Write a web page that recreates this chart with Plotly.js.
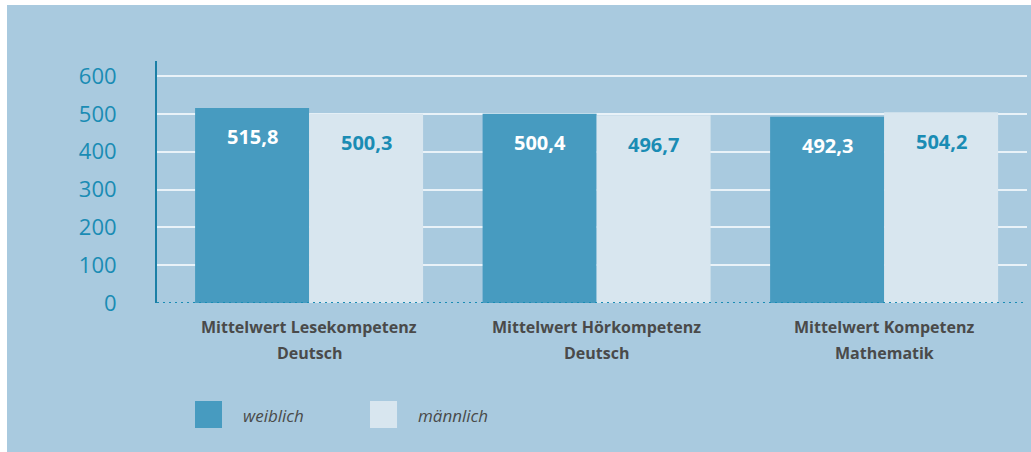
<!DOCTYPE html>
<html>
<head>
<meta charset="utf-8">
<script src="https://cdn.plot.ly/plotly-3.0.1.min.js"></script>
<style>
html,body{margin:0;padding:0;background:#ffffff;}
#chart{position:absolute;left:7px;top:5px;width:1024px;height:447px;}
</style>
</head>
<body>
<div id="chart"></div>
<script>
var categories = ["Mittelwert Lesekompetenz<br>Deutsch", "Mittelwert Hörkompetenz<br>Deutsch", "Mittelwert Kompetenz<br>Mathematik"];
var seriesNames = ["weiblich", "männlich"];
var weiblich = [515.8, 500.4, 492.3];
var maennlich = [500.3, 496.7, 504.2];
var yTicks = [0, 100, 200, 300, 400, 500, 600];

var FONT = "Open Sans, Noto Sans, sans-serif";
var DARK = "#479bc0", LIGHT = "#d8e6ef", TEAL = "#1a8cb4", GREY = "#4a4a4a";

function fmt(v){ return v.toFixed(1).replace(".", ","); }

var traces = [
  {type:"bar", name:seriesNames[0], x:categories, y:weiblich, marker:{color:DARK}, hoverinfo:"none"},
  {type:"bar", name:seriesNames[1], x:categories, y:maennlich, marker:{color:LIGHT}, hoverinfo:"none"}
];

var annotations = [];
categories.forEach(function(c, i){
  annotations.push({x:c, y:weiblich[i], xref:"x", yref:"y", text:"<b>"+fmt(weiblich[i])+"</b>", showarrow:false,
    xshift:-57, yshift:-29, yanchor:"middle", font:{family:FONT, size:20, color:"#ffffff"}});
  annotations.push({x:c, y:maennlich[i], xref:"x", yref:"y", text:"<b>"+fmt(maennlich[i])+"</b>", showarrow:false,
    xshift:57, yshift:-29, yanchor:"middle", font:{family:FONT, size:20, color:TEAL}});
  // category labels, one annotation per line for wider line spacing
  c.split("<br>").forEach(function(line, j){
    annotations.push({x:c, y:0, xref:"x", yref:"y", text:"<b>"+line+"</b>", showarrow:false,
      yshift:-24 - 26*j, yanchor:"middle", font:{family:FONT, size:16, color:GREY}});
  });
});
// legend
var legX = [0.0966, 0.2977];
var legSq = [[0.0437, 0.0747], [0.2448, 0.2759]];
var legCol = [DARK, LIGHT];
var shapes = [
  {type:"line", xref:"paper", yref:"y", x0:0, x1:1, y0:0, y1:0, line:{color:TEAL, width:2, dash:"2px,4px"}}
];
seriesNames.forEach(function(n, i){
  annotations.push({xref:"paper", yref:"paper", x:legX[i], y:-0.463, xanchor:"left", yanchor:"middle",
    text:"<i>"+n+"</i>", showarrow:false, font:{family:FONT, size:17, color:GREY}});
  shapes.push({type:"rect", xref:"paper", yref:"paper", x0:legSq[i][0], x1:legSq[i][1], y0:-0.405, y1:-0.5165,
    line:{width:0}, fillcolor:legCol[i]});
});

var layout = {
  width:1024, height:447,
  paper_bgcolor:"#a9cadf", plot_bgcolor:"rgba(0,0,0,0)",
  margin:{l:150, r:4, t:56, b:149},
  barmode:"group", bargap:0.207, bargroupgap:0,
  showlegend:false,
  font:{family:FONT},
  xaxis:{range:[-0.529, 2.497], showgrid:false, zeroline:false, showline:false, ticks:"",
    showticklabels:false, fixedrange:true},
  yaxis:{range:[0, 640], tickvals:yTicks, ticktext:yTicks.map(String), showgrid:true, gridcolor:"#e9f2f8", gridwidth:2,
    zeroline:false, showline:true, linecolor:"#1b7fa6", linewidth:2, ticks:"",
    tickfont:{family:FONT, size:22, color:TEAL}, ticklabelstandoff:34, fixedrange:true},
  annotations:annotations,
  shapes:shapes
};

Plotly.newPlot("chart", traces, layout, {displayModeBar:false, staticPlot:true});
</script>
</body>
</html>
